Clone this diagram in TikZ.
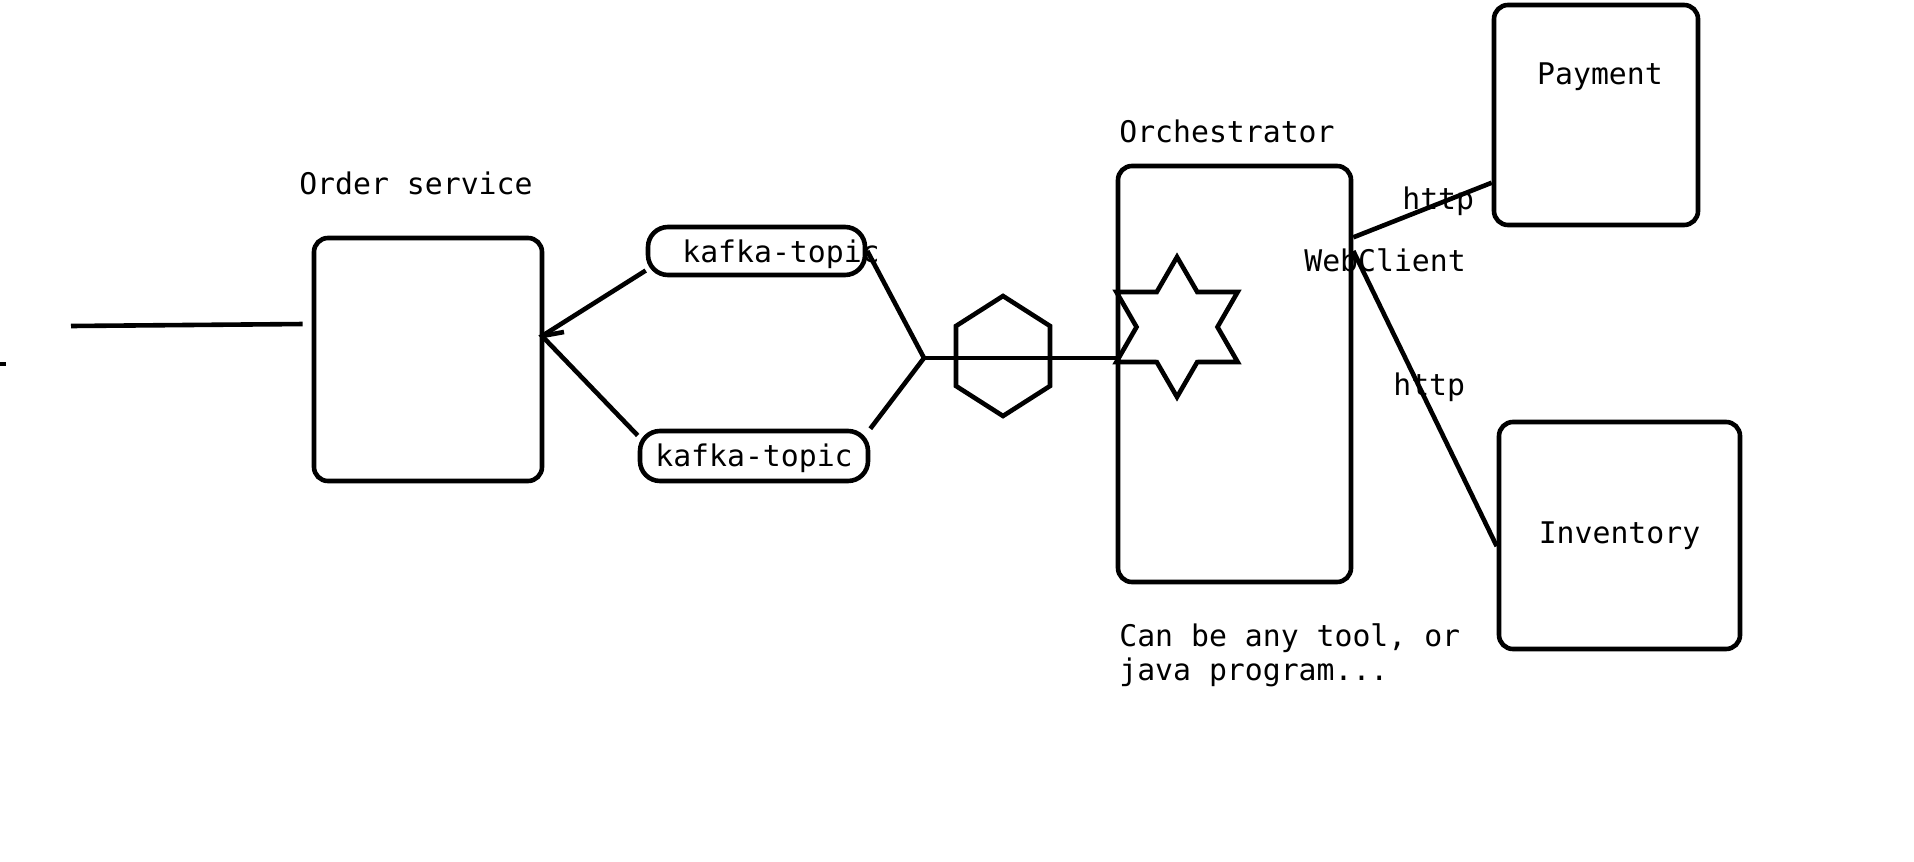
\documentclass[tikz,border=0pt]{standalone}
\usepackage{fontspec}
\setmonofont{DejaVu Sans Mono}
\usetikzlibrary{shapes.geometric}
\begin{document}
\begin{tikzpicture}[x=0.5pt,y=-0.5pt,line width=2.3pt,
  box/.style={draw,rounded corners=7pt,inner sep=0pt},
  topic/.style={draw,rounded corners=10pt,inner sep=0pt},
  txt/.style={font=\ttfamily\fontsize{14.9}{17}\selectfont,inner sep=0pt}]
\useasboundingbox (0,0) rectangle (1914,861);
\draw (0,364)--(6,364);
% order side
\coordinate (src) at (71,326);
\node[box,minimum width=114pt,minimum height=121.5pt] (order) at (428,359.5) {};
\node[txt,anchor=west] (orderlbl) at (297,183) {Order service};
\draw[shorten >=4.5pt] (src)--(order.163);
\node[topic,minimum width=108.5pt,minimum height=24pt] (ktop) at (756.5,251) {};
\node[txt,anchor=west] (ktoplbl) at (680,254) {kafka-topic};
\node[topic,minimum width=114pt,minimum height=25pt] (kbot) at (754,456) {};
\node[txt,anchor=west] (kbotlbl) at (653,458) {kafka-topic};
\coordinate (merge) at (542,336);
\draw (ktop.190)--(merge)--(kbot.170);
\draw (merge)--++(22,-4);
% orchestrator side
\coordinate (fan) at (924,358);
\draw (ktop.east)--(fan)--(kbot.north east);
\coordinate (hex) at (1003,356);
\draw[shift={(hex)}] (0,-60)--(47,-30)--(47,30)--(0,60)--(-47,30)--(-47,-30)--cycle;
\node[box,minimum width=116.5pt,minimum height=208pt] (orch) at (1234.5,374) {};
\node[txt,anchor=west] (orchlbl) at (1117,131) {Orchestrator};
\draw (fan)--(fan-|orch.west);
\node[draw,star,star points=6,star point ratio=1.73,minimum size=70pt,inner sep=0pt] (engine) at (1177,327) {};
\node[txt,anchor=west,align=left] (note) at (1117,655) {Can be any tool, or\\java program...};
% services
\node[box,minimum width=102pt,minimum height=110pt] (pay) at (1596,115) {};
\node[txt] (paylbl) at (1600,77) {Payment};
\node[box,txt,minimum width=120.5pt,minimum height=113.5pt] (inv) at (1619.5,535.5) {Inventory};
\draw (orch.49)--(pay.213);
\draw (orch.46)--(inv.185);
\node[txt,anchor=west] (wclbl) at (1302,260) {WebClient};
\node[txt,anchor=west] (http1) at (1400,201) {http};
\node[txt,anchor=west] (http2) at (1391,387) {http};
\end{tikzpicture}
\end{document}
